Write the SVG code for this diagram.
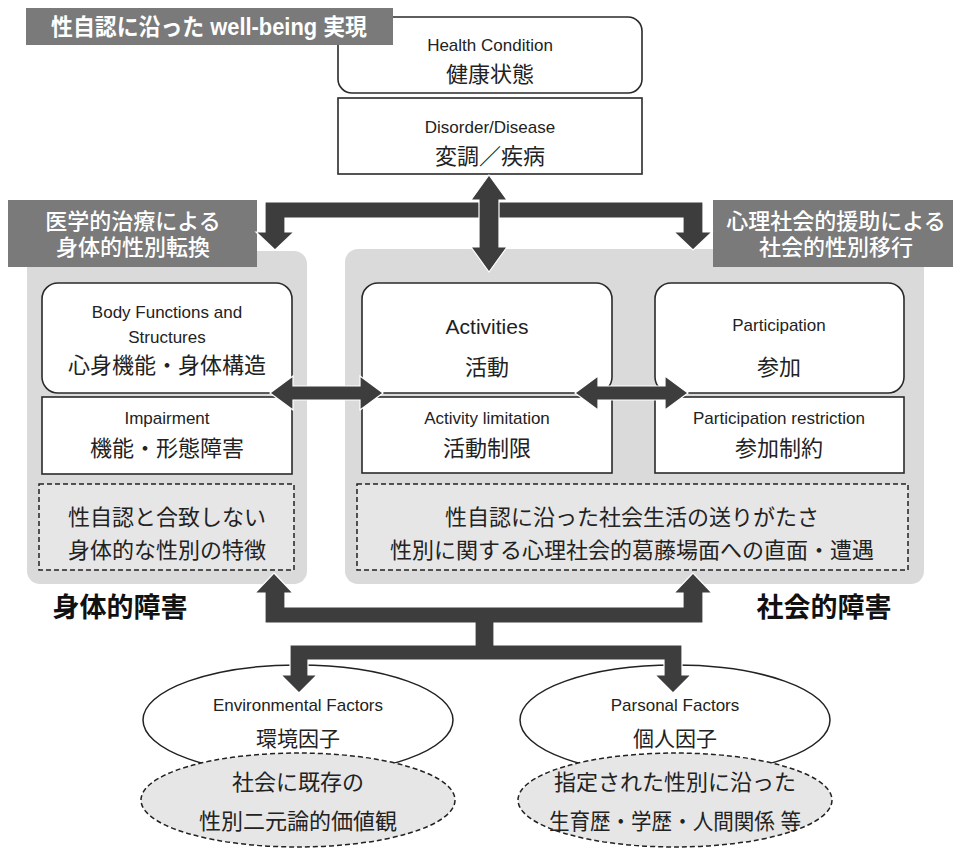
<svg xmlns="http://www.w3.org/2000/svg" width="957" height="858" viewBox="0 0 957 858">
<style>
text{font-family:"Liberation Sans","Noto Sans CJK JP",sans-serif;fill:#222;text-anchor:middle}
.en{font-size:17px}
.jp{font-size:22px}
.ban{fill:#7a7a7a}
.bt{fill:#fff;font-size:22px;font-weight:500}
.panel{fill:#dadada}
.box{fill:#fff;stroke:#2a2a2a;stroke-width:1.6}
.dash{fill:#e6e6e6;stroke:#222;stroke-width:1.5;stroke-dasharray:5 3}
.arr{fill:#3d3d3d;stroke:#fff;stroke-width:1.2;stroke-linejoin:miter}
.big{font-size:27px;font-weight:bold;fill:#111}
</style>
<rect width="957" height="858" fill="#fff"/>

<g id="panel-left"><rect class="panel" x="27" y="251" width="280" height="333" rx="13"/></g>
<g id="panel-right"><rect class="panel" x="345" y="249" width="579" height="335" rx="13"/></g>

<g id="banner-left">
<rect class="ban" x="8" y="200" width="249" height="67"/>
<text class="bt" x="133" y="229">医学的治療による</text>
<text class="bt" x="133" y="255">身体的性別転換</text>
</g>
<g id="banner-right">
<rect class="ban" x="713" y="200" width="240" height="67"/>
<text class="bt" x="836" y="229">心理社会的援助による</text>
<text class="bt" x="836" y="255">社会的性別移行</text>
</g>

<g id="health">
<rect class="box" x="338" y="17" width="304" height="76" rx="14"/>
<text class="en" x="490" y="51">Health Condition</text>
<text class="jp" x="490" y="82">健康状態</text>
</g>
<g id="disorder">
<rect class="box" x="338" y="98" width="304" height="76"/>
<text class="en" x="490" y="133">Disorder/Disease</text>
<text class="jp" x="490" y="164">変調／疾病</text>
</g>

<g id="banner-top">
<rect class="ban" x="26" y="8" width="367" height="37"/>
<text x="209" y="35" textLength="316" lengthAdjust="spacingAndGlyphs" style="fill:#fff;font-size:23px;font-weight:bold">性自認に沿った well-being 実現</text>
</g>

<g id="body">
<rect class="box" x="42" y="283" width="250" height="110" rx="16"/>
<text class="en" x="167" y="318">Body Functions and</text>
<text class="en" x="167" y="343">Structures</text>
<text class="jp" x="167" y="373">心身機能・身体構造</text>
</g>
<g id="impairment">
<rect class="box" x="42" y="397" width="250" height="77"/>
<text class="en" x="167" y="424">Impairment</text>
<text class="jp" x="167" y="456">機能・形態障害</text>
</g>
<g id="activities">
<rect class="box" x="362" y="283" width="250" height="110" rx="16"/>
<text x="487" y="334" style="font-size:21px">Activities</text>
<text class="jp" x="487" y="375">活動</text>
</g>
<g id="activity-limitation">
<rect class="box" x="362" y="397" width="250" height="76"/>
<text class="en" x="487" y="424">Activity limitation</text>
<text class="jp" x="487" y="456">活動制限</text>
</g>
<g id="participation">
<rect class="box" x="655" y="283" width="249" height="110" rx="16"/>
<text class="en" x="779" y="331">Participation</text>
<text class="jp" x="779" y="375">参加</text>
</g>
<g id="participation-restriction">
<rect class="box" x="655" y="397" width="249" height="76"/>
<text class="en" x="779" y="424">Participation restriction</text>
<text class="jp" x="779" y="456">参加制約</text>
</g>

<g id="body-note">
<rect class="dash" x="39" y="484" width="255" height="86"/>
<text class="jp" x="167" y="525">性自認と合致しない</text>
<text class="jp" x="167" y="558">身体的な性別の特徴</text>
</g>
<g id="social-note">
<rect class="dash" x="357" y="484" width="551" height="86"/>
<text class="jp" x="632" y="525">性自認に沿った社会生活の送りがたさ</text>
<text class="jp" x="632" y="558">性別に関する心理社会的葛藤場面への直面・遭遇</text>
</g>

<g id="label-body"><text class="big" x="120" y="617">身体的障害</text></g>
<g id="label-social"><text class="big" x="824" y="617">社会的障害</text></g>

<g id="env">
<ellipse cx="298" cy="720" rx="155" ry="55" fill="#fff" stroke="#222" stroke-width="1.5"/>
<text class="en" x="298" y="711">Environmental Factors</text>
<text class="jp" x="298" y="746" style="font-size:21px">環境因子</text>
</g>
<g id="env-note">
<ellipse class="dash" cx="298" cy="800" rx="157" ry="47"/>
<text class="jp" x="298" y="790">社会に既存の</text>
<text class="jp" x="298" y="829">性別二元論的価値観</text>
</g>
<g id="pers">
<ellipse cx="675" cy="720" rx="155" ry="55" fill="#fff" stroke="#222" stroke-width="1.5"/>
<text class="en" x="675" y="711">Parsonal Factors</text>
<text class="jp" x="675" y="746" style="font-size:21px">個人因子</text>
</g>
<g id="pers-note">
<ellipse class="dash" cx="675" cy="800" rx="157" ry="47"/>
<text class="jp" x="675" y="790">指定された性別に沿った</text>
<text class="jp" x="675" y="829" textLength="252" lengthAdjust="spacingAndGlyphs">生育歴・学歴・人間関係 等</text>
</g>

<g id="connectors">
<path class="arr" d="M265 202 H703 V232 H712 L693 250 L674 232 H683 V218 H285 V232 H294 L275 250 L256 232 H265 Z"/>
<path class="arr" d="M489 175 L507 200 H499 V247 H507 L489 272 L471 247 H479 V200 H471 Z"/>
<path class="arr" d="M270 393 L293 376 V386 H360 V376 L383 393 L360 410 V400 H293 V410 Z"/>
<path class="arr" d="M575 393 L598 376 V386 H665 V376 L688 393 L665 410 V400 H598 V410 Z"/>
<path class="arr" d="M274 573 L293 593 H285 V607 H683 V593 H674 L693 573 L712 593 H703 V623 H494 V645 H682 V675 H691 L673 693 L655 675 H664 V660 H308 V675 H317 L299 693 L281 675 H290 V645 H475 V623 H265 V593 H255 Z"/>
</g>
</svg>
